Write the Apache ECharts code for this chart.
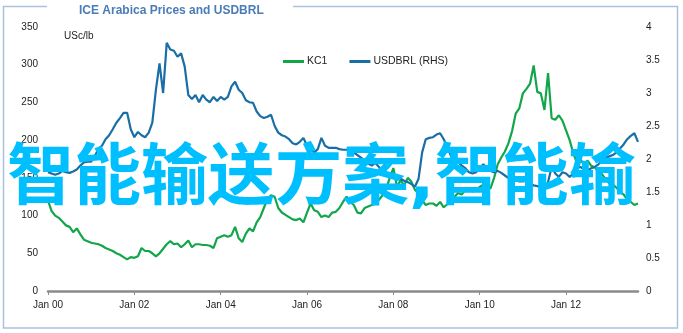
<!DOCTYPE html>
<html>
<head>
<meta charset="utf-8">
<script src="https://cdn.jsdelivr.net/npm/echarts@6/dist/echarts.min.js"></script>
<style>
html,body{margin:0;padding:0;background:#fff;}
#c{width:683px;height:333px;}
</style>
</head>
<body>
<div id="c"></div>
<script>
// Monthly observations, Jan 2000 .. Sep 2013
const startYear = 2000;
const monthNames = ['Jan','Feb','Mar','Apr','May','Jun','Jul','Aug','Sep','Oct','Nov','Dec'];
const tickLabels = ['Jan 00','Jan 02','Jan 04','Jan 06','Jan 08','Jan 10','Jan 12'];
const leftTicks = [0,50,100,150,200,250,300,350];
const rightTicks = [0,0.5,1,1.5,2,2.5,3,3.5,4];

const kc1 = [
120,106,100,97,92,87,85,78,83,75,68,66,
64,63,62,60,57,55,53,50,48,45,42,45,
44,46,57,53,53,50,46,50,56,62,66,62,
63,58,62,67,58,62,62,61,61,60,57,70,
72,74,72,74,85,70,65,76,83,79,91,98,
110,122,127,125,110,104,101,98,95,94,96,91,
104,116,107,105,98,100,98,104,105,110,118,125,
118,114,104,103,110,112,114,116,121,127,135,150,
163,138,147,140,150,145,134,130,120,114,116,116,
113,118,111,115,120,125,130,128,134,136,132,134,
138,141,138,136,150,168,177,185,196,212,235,242,
262,268,275,299,264,262,240,289,229,227,233,226,
213,200,183,170,174,168,173,166,164,158,155,148,
143,141,137,131,128,121,118,114,116
];

const usdbrl = [
1.80,1.78,1.76,1.78,1.82,1.80,1.79,1.81,1.84,1.90,1.95,1.96,
1.96,2.04,2.15,2.20,2.30,2.36,2.45,2.55,2.62,2.70,2.70,2.45,
2.33,2.41,2.36,2.33,2.40,2.55,3.05,3.45,3.00,3.76,3.66,3.64,
3.55,3.60,3.40,2.97,2.91,2.97,2.86,2.97,2.90,2.86,2.94,2.88,
2.94,2.90,2.94,3.10,3.17,3.05,3.00,2.89,2.86,2.85,2.72,2.65,
2.62,2.64,2.67,2.50,2.40,2.36,2.34,2.30,2.24,2.22,2.26,2.32,
2.20,2.15,2.10,2.15,2.32,2.20,2.17,2.17,2.17,2.15,2.14,2.14,
2.12,2.10,2.06,2.02,1.98,1.93,1.90,1.94,1.88,1.80,1.76,1.78,
1.77,1.72,1.70,1.67,1.65,1.62,1.58,1.70,2.10,2.30,2.32,2.33,
2.37,2.39,2.30,2.18,2.05,1.98,1.95,1.90,1.86,1.80,1.78,1.80,
1.86,1.92,1.86,1.82,1.80,1.82,1.79,1.75,1.71,1.70,1.68,1.66,
1.66,1.67,1.62,1.60,1.59,1.58,1.56,1.65,1.88,1.78,1.73,1.80,
1.78,1.73,1.78,1.86,1.88,1.84,1.83,1.86,1.88,1.92,1.98,2.02,
2.04,2.06,2.10,2.16,2.22,2.30,2.35,2.39,2.26
];

const categories = kc1.map((_, i) => {
  const y = startYear + Math.floor(i / 12);
  return monthNames[i % 12] + ' ' + String(y % 100).padStart(2, '0');
});
const showTick = (idx, val) => tickLabels.indexOf(val) >= 0;

const chart = echarts.init(document.getElementById('c'), null, {renderer: 'canvas'});
chart.setOption({
  animation: false,
  backgroundColor: '#ffffff',
  grid: {left: 48, right: 45, top: 27, bottom: 42, containLabel: false},
  legend: {
    data: ['KC1', 'USDBRL (RHS)'],
    left: 283, top: 56, padding: 0,
    icon: 'rect', itemWidth: 21, itemHeight: 3, itemGap: 22,
    textStyle: {fontSize: 10.5, color: '#222', fontFamily: 'Liberation Sans, Arial, sans-serif', padding: [0, 0, 0, -2]}
  },
  xAxis: {
    type: 'category', data: categories, boundaryGap: false,
    axisLine: {show: true, lineStyle: {color: '#8a8a8a', width: 2.5}},
    axisTick: {show: true, interval: showTick, length: 4, lineStyle: {color: '#8a8a8a', width: 1}},
    axisLabel: {interval: showTick, margin: 9, fontSize: 10, color: '#222', fontFamily: 'Liberation Sans, Arial, sans-serif'},
    splitLine: {show: false}
  },
  yAxis: [{
    type: 'value', min: leftTicks[0], max: leftTicks[leftTicks.length - 1], interval: 50,
    axisLine: {show: false}, axisTick: {show: false}, splitLine: {show: false},
    axisLabel: {margin: 10, fontSize: 10, color: '#222', fontFamily: 'Liberation Sans, Arial, sans-serif'}
  }, {
    type: 'value', min: rightTicks[0], max: rightTicks[rightTicks.length - 1], interval: 0.5,
    axisLine: {show: false}, axisTick: {show: false}, splitLine: {show: false},
    axisLabel: {margin: 8, fontSize: 10, color: '#222', fontFamily: 'Liberation Sans, Arial, sans-serif'}
  }],
  series: [{
    name: 'KC1', type: 'line', data: kc1, yAxisIndex: 0,
    showSymbol: false, symbol: 'none',
    lineStyle: {color: '#12a64a', width: 2.2}, itemStyle: {color: '#12a64a'}
  }, {
    name: 'USDBRL (RHS)', type: 'line', data: usdbrl, yAxisIndex: 1,
    showSymbol: false, symbol: 'none',
    lineStyle: {color: '#1a6ea6', width: 2.2}, itemStyle: {color: '#1a6ea6'}
  }],
  graphic: [
    {type: 'rect', silent: true, z: 1, shape: {x: 3.5, y: 6.5, width: 674, height: 321.5},
      style: {fill: null, stroke: '#a9c1dd', lineWidth: 1.5}},
    {type: 'rect', silent: true, z: 2, shape: {x: 47, y: 2, width: 246, height: 9}, style: {fill: '#ffffff'}},
    {type: 'text', silent: true, z: 3, x: 79, y: 11,
      style: {text: 'ICE Arabica Prices and USDBRL', fill: '#4a7cb6', font: 'bold 12px "Liberation Sans", Arial, sans-serif', verticalAlign: 'middle'}},
    {type: 'text', silent: true, z: 3, x: 64, y: 36,
      style: {text: 'USc/lb', fill: '#222', font: '10px "Liberation Sans", Arial, sans-serif', verticalAlign: 'middle'}},
    {type: 'text', silent: true, z: 100, x: 7, y: 182,
      style: {text: '智能输送方案,智能输', fill: '#00bfff', font: 'bold 67px "DejaVu Sans", "Noto Sans CJK SC", sans-serif', verticalAlign: 'middle'}}
  ]
});
</script>
</body>
</html>
